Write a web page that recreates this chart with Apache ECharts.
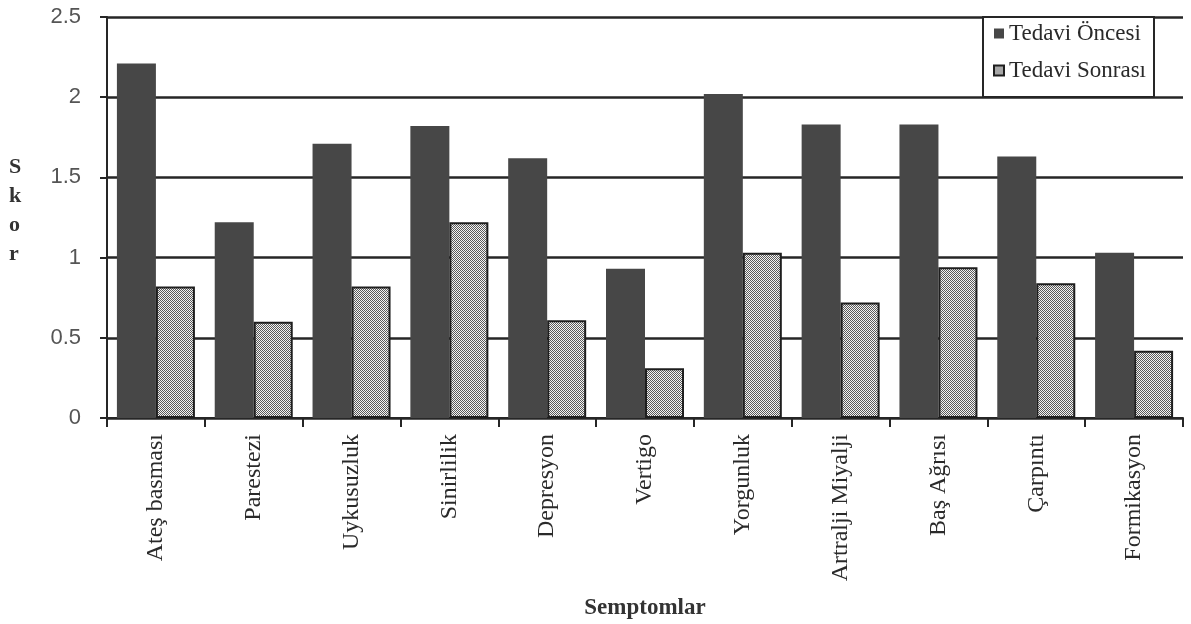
<!DOCTYPE html>
<html>
<head>
<meta charset="utf-8">
<script src="https://cdn.jsdelivr.net/npm/echarts@6/dist/echarts.min.js"></script>
<style>
  html, body { margin: 0; padding: 0; background: #ffffff; }
  #chart { width: 1191px; height: 624px; }
</style>
</head>
<body>
<div id="chart"></div>
<script>
// Symptom scores before and after treatment
const categories = ['Ateş basması', 'Parestezi', 'Uykusuzluk', 'Sinirlilik', 'Depresyon', 'Vertigo',
  'Yorgunluk', 'Artralji Miyalji', 'Baş Ağrısı', 'Çarpıntı', 'Formikasyon'];
const beforeTreatment = [2.21, 1.22, 1.71, 1.82, 1.62, 0.93, 2.02, 1.83, 1.83, 1.63, 1.03];
const afterTreatment = [0.82, 0.60, 0.82, 1.22, 0.61, 0.31, 1.03, 0.72, 0.94, 0.84, 0.42];
const yTicks = [0, 0.5, 1, 1.5, 2, 2.5];
const seriesNames = ['Tedavi Öncesi', 'Tedavi Sonrası'];

// fine checker fill for the post-treatment bars
function checker() {
  const c = document.createElement('canvas');
  c.width = 2; c.height = 2;
  const g = c.getContext('2d');
  g.fillStyle = '#f4f4f4'; g.fillRect(0, 0, 2, 2);
  g.fillStyle = '#5a5a5a';
  g.fillRect(0, 0, 1, 1);
  g.fillRect(1, 1, 1, 1);
  return c;
}
const dotted = { image: checker(), repeat: 'repeat' };

const serif = '"Liberation Serif", "Times New Roman", serif';
const sans = '"Liberation Sans", Arial, sans-serif';
const ink = '#262626';

const chart = echarts.init(document.getElementById('chart'), null, { renderer: 'canvas' });
chart.setOption({
  animation: false,
  backgroundColor: '#ffffff',
  grid: { left: 107, right: 8, top: 17, bottom: 206, outerBoundsMode: 'none', containLabel: false },
  legend: {
    orient: 'vertical',
    left: 983,
    top: 17,
    padding: [5, 8, 15, 10],
    itemGap: 14,
    itemWidth: 10,
    itemHeight: 10,
    icon: 'rect',
    backgroundColor: '#ffffff',
    borderColor: ink,
    borderWidth: 2,
    textStyle: { fontFamily: serif, fontSize: 23, color: '#2a2a2a' },
    data: seriesNames
  },
  xAxis: {
    type: 'category',
    data: categories,
    boundaryGap: true,
    name: 'Semptomlar',
    nameLocation: 'middle',
    nameGap: 179,
    nameTextStyle: { fontFamily: serif, fontSize: 23, fontWeight: 'bold', color: '#333' },
    axisLine: { lineStyle: { color: ink, width: 2 } },
    axisTick: { show: true, length: 9, lineStyle: { color: ink, width: 2 } },
    axisLabel: { rotate: 90, margin: 16, fontFamily: serif, fontSize: 24, color: '#2a2a2a', interval: 0 },
    splitLine: { show: false }
  },
  yAxis: {
    type: 'value',
    min: yTicks[0],
    max: yTicks[yTicks.length - 1],
    interval: 0.5,
    axisLine: { show: true, lineStyle: { color: ink, width: 2 } },
    axisTick: { show: true, length: 7, lineStyle: { color: ink, width: 2 } },
    axisLabel: { margin: 26, fontFamily: sans, fontSize: 22, color: '#555' },
    splitLine: { show: true, lineStyle: { color: ink, width: 2.5 } }
  },
  series: [
    {
      name: seriesNames[0],
      type: 'bar',
      data: beforeTreatment,
      barWidth: 39,
      barGap: '0%',
      itemStyle: { color: '#474747' }
    },
    {
      name: seriesNames[1],
      type: 'bar',
      data: afterTreatment,
      barWidth: 39,
      barGap: '0%',
      itemStyle: { color: dotted, borderColor: '#1e1e1e', borderWidth: 2 }
    }
  ],
  graphic: [
    {
      type: 'text',
      left: 9,
      top: 153,
      style: {
        text: 'S\nk\no\nr',
        fontFamily: serif,
        fontSize: 22,
        fontWeight: 'bold',
        lineHeight: 29,
        fill: '#333',
        align: 'center'
      }
    }
  ]
});
</script>
</body>
</html>
